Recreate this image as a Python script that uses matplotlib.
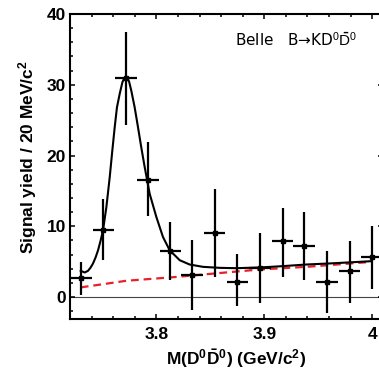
import numpy as np
import matplotlib
matplotlib.use('Agg')
import matplotlib.pyplot as plt
from matplotlib.ticker import MultipleLocator, FixedLocator

plt.rcParams['font.family'] = ['Liberation Sans', 'DejaVu Sans']
plt.rcParams['mathtext.fontset'] = 'custom'
plt.rcParams['mathtext.rm'] = 'Liberation Sans'
plt.rcParams['mathtext.bf'] = 'Liberation Sans:bold'
plt.rcParams['mathtext.default'] = 'bf'

# data points (bin centres, yields, error-bar ends)
mass = np.array([3.730, 3.751, 3.772, 3.792, 3.813, 3.833, 3.854,
                 3.875, 3.896, 3.917, 3.937, 3.958, 3.979, 4.000])
yld = np.array([2.7, 9.5, 30.9, 16.6, 6.5, 3.1, 9.1, 2.1, 4.1, 7.9, 7.2, 2.1, 3.7, 5.7])
y_hi = np.array([5.0, 13.8, 37.5, 21.9, 10.6, 8.1, 15.2, 6.1, 9.0, 12.6, 12.0, 6.5, 7.9, 10.1])
y_lo = np.array([0.3, 5.3, 24.3, 11.4, 2.4, -1.8, 2.9, -1.3, -0.8, 2.9, 2.4, -2.3, -0.8, 1.2])

# total fit curve
fit_x = [3.7299, 3.7336, 3.7367, 3.7390, 3.7413, 3.7437, 3.7460, 3.7483, 3.7506,
         3.7537, 3.7568, 3.7592, 3.7614, 3.7635, 3.7660, 3.7685, 3.7700, 3.7716,
         3.7732, 3.7747, 3.7768, 3.7799, 3.7830, 3.7861, 3.7892, 3.7938, 3.8000,
         3.8061, 3.8123, 3.8216, 3.8308, 3.8432, 3.8586, 3.8740, 3.8957, 3.9172,
         3.9389, 3.9605, 3.9790, 3.9990]
fit_y = [3.71, 3.47, 3.71, 4.15, 4.74, 5.60, 6.62, 7.95, 9.44,
         12.72, 16.95, 20.70, 23.99, 26.81, 28.69, 30.33, 30.85, 31.03,
         30.85, 30.47, 29.15, 26.81, 23.99, 21.08, 18.36, 14.60, 11.31,
         8.50, 6.62, 5.21, 4.60, 4.27, 4.13, 4.08, 4.18, 4.37,
         4.60, 4.75, 4.90, 5.07]

# background component (red dashed)
bkg_x = [3.730, 3.751, 3.772, 3.815, 3.859, 3.896, 3.939, 3.999]
bkg_y = [1.37, 1.83, 2.30, 2.80, 3.40, 3.90, 4.27, 4.97]

fig = plt.figure(figsize=(3.79, 3.69), dpi=100)
ax = fig.add_axes([0.1847, 0.1355, 0.826, 0.8266])

ax.axhline(0, color='#444444', lw=0.8, zorder=1)
ax.plot(bkg_x, bkg_y, color='#e8202a', lw=1.6, dashes=(3.5, 2.2), zorder=2)
ax.plot(fit_x, fit_y, color='black', lw=1.5, zorder=3, solid_joinstyle='round')
ax.errorbar(mass, yld, xerr=0.01, yerr=[yld - y_lo, y_hi - yld], fmt='s', ms=3,
            color='black', elinewidth=1.6, capsize=0, zorder=4)

ax.set_xlim(3.72, 4.01)
ax.set_ylim(-3.1, 40)
ax.xaxis.set_major_locator(FixedLocator([3.8, 3.9, 4.0]))
ax.set_xticklabels(['3.8', '3.9', '4'])
ax.xaxis.set_minor_locator(MultipleLocator(0.02))
ax.yaxis.set_major_locator(MultipleLocator(10))
ax.yaxis.set_minor_locator(MultipleLocator(2))
ax.tick_params(which='both', direction='in', top=True, right=True, width=1.1)
ax.tick_params(which='major', length=3.8, labelsize=12.5)
ax.tick_params(which='minor', length=2.4)
ax.tick_params(axis='y', which='major', pad=3)
ax.tick_params(axis='x', which='major', pad=6)
for lab in ax.get_xticklabels() + ax.get_yticklabels():
    lab.set_fontweight('bold')
for s in ax.spines.values():
    s.set_linewidth(1.5)

ax.set_xlabel(r'M(D$^0\bar{D}^0$) (GeV/c$^2$)', fontsize=12.5, fontweight='bold')
ax.set_ylabel(r'Signal yield / 20 MeV/c$^2$', fontsize=12.5, fontweight='bold')
ax.xaxis.set_label_coords(0.53, -0.094)
ax.yaxis.set_label_coords(-0.099, 0.531)

fig.text(0.619, 0.893, r'Belle   B→KD$^\mathrm{0}\bar{\mathrm{D}}^\mathrm{0}$',
         fontsize=11, va='center', ha='left', family=['DejaVu Sans'])

fig.savefig('out.png', dpi=100)
